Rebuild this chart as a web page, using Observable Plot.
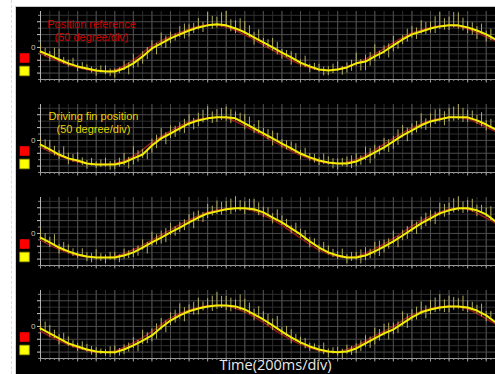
<!DOCTYPE html>
<html><head><meta charset="utf-8">
<script src="https://cdn.jsdelivr.net/npm/d3@7"></script>
<script src="https://cdn.jsdelivr.net/npm/@observablehq/plot@0.6"></script>
<style>
html,body{margin:0;padding:0;background:#fff;}
#wrap{position:relative;width:495px;height:374px;overflow:hidden;background:#fff;}
#ruler{position:absolute;left:11px;top:0;bottom:0;border-left:1px dashed #dcdcdc;}
#bg{position:absolute;left:15px;top:6px;right:0;bottom:0;background:#000;border-top:1px solid #c8c8c8;border-left:1px solid #d4d4d4;}
#chart{position:absolute;left:0;top:0;}
#chart svg{background:transparent;}
</style></head><body>
<div id="wrap"><div id="ruler"></div><div id="bg"></div><div id="chart"></div></div>
<script>
const panels = [1, 2, 3, 4];
const refLabel = ["Position reference", "(50 degree/div)"];
const finLabel = ["Driving fin position", "(50 degree/div)"];
const xLabel = "Time(200ms/div)";
const timeMs = [0,100,200,300,400,500,600,700,800,900,1000,1100,1200,1300,1400,1500,1600,1700,1800,1900,2000,2100,2200,2300,2400,2500,2600,2700,2800,2900,3000,3100,3200,3300,3400,3500,3600,3700,3800,3900,4000,4100,4200,4300,4400,4500,4600,4700,4800,4900];
const refTimeMs = [0,200,400,600,800,1000,1200,1400,1600,1800,2000,2200,2400,2600,2800,3000,3200,3400,3600,3800,4000,4200,4400,4600,4800,4900];
const timeDomain = [0, 4900];
const degDomain = [-125, 140];
const xMinorTicks = [0,100,200,300,400,500,600,700,800,900,1000,1100,1200,1300,1400,1500,1600,1700,1800,1900,2000,2100,2200,2300,2400,2500,2600,2700,2800,2900,3000,3100,3200,3300,3400,3500,3600,3700,3800,3900,4000,4100,4200,4300,4400,4500,4600,4700,4800,4900];
const xMajorTicks = [0,200,400,600,800,1000,1200,1400,1600,1800,2000,2200,2400,2600,2800,3000,3200,3400,3600,3800,4000,4200,4400,4600,4800];
const yMajorTicks = [-100, -50, 0, 50, 100];
const yMinorTicks = [-125, -75, -25, 25, 75, 125];

// measured (yellow) traces, degrees
const fin1 = [-16,-31,-47,-62,-74,-82,-90,-94,-94,-82,-62,-35,-4,16,35,51,66,78,86,90,86,74,59,39,20,0,-20,-39,-59,-74,-86,-90,-86,-78,-62,-55,-35,-16,8,31,51,62,74,82,86,86,78,66,51,31];
const fin2 = [-16,-35,-55,-70,-78,-90,-94,-94,-94,-86,-70,-55,-20,8,27,47,66,78,86,90,90,86,66,47,27,8,-12,-31,-51,-66,-78,-86,-90,-90,-82,-66,-47,-27,-4,20,39,59,74,82,90,90,90,78,62,43];
const fin3 = [-16,-35,-55,-70,-82,-90,-94,-94,-94,-86,-74,-55,-35,-16,4,23,43,62,78,86,94,98,98,94,82,62,43,20,-4,-31,-55,-74,-86,-94,-94,-86,-70,-51,-31,-8,16,39,59,78,90,98,98,90,74,47];
const fin4 = [-8,-27,-47,-66,-78,-90,-98,-101,-101,-90,-74,-55,-35,-4,23,43,59,70,78,82,82,78,66,47,27,4,-20,-43,-62,-78,-90,-98,-101,-98,-86,-66,-47,-27,-12,12,35,55,66,74,78,78,74,62,43,16];
// noise spike extents above / below the trace at each sample, degrees
const up1 = [30,15,40,12,10,14,8,22,10,28,35,18,30,40,25,30,22,35,50,28,55,30,42,20,15,35,12,22,10,8,20,15,30,18,40,25,45,22,35,15,30,42,25,55,32,48,22,15,12,18];
const dn1 = [8,25,10,15,20,8,22,12,25,8,20,30,10,15,20,12,25,10,8,15,10,20,8,30,20,15,25,30,18,25,10,20,8,22,12,35,20,10,25,20,15,10,18,12,20,15,25,35,30,20];
const up2 = [25,35,15,20,30,12,10,25,15,35,45,20,25,38,30,22,35,28,45,30,40,25,35,15,20,28,15,25,12,15,10,22,18,25,30,40,28,35,20,38,25,45,30,40,35,50,28,20,15,25];
const dn2 = [15,10,20,25,10,22,15,10,20,12,25,15,30,10,20,15,12,25,10,20,15,10,25,20,12,30,18,10,25,15,20,10,25,15,20,12,25,15,30,10,20,15,25,10,18,12,20,15,25,10];
const up3 = [35,20,12,25,10,15,30,10,20,25,15,30,40,25,35,20,30,25,35,40,30,45,25,38,20,15,25,10,20,15,10,25,15,12,20,30,35,25,40,20,35,25,30,40,28,45,30,20,25,15];
const dn3 = [10,20,25,10,15,20,10,25,12,15,20,10,15,25,12,20,10,15,20,12,10,15,25,10,20,25,12,20,15,25,20,10,15,25,10,20,15,25,10,20,12,25,15,10,20,12,15,25,10,20];
const up4 = [20,30,15,25,12,20,15,10,25,18,30,40,25,35,30,45,25,40,30,50,35,25,40,20,30,25,15,30,20,12,15,10,20,25,18,30,40,35,25,45,30,40,35,50,40,30,25,20,15,12];
const dn4 = [10,15,25,12,20,10,25,15,10,20,12,15,25,10,20,15,12,25,10,15,20,12,15,25,10,20,15,25,10,20,12,25,15,10,20,15,25,10,20,12,15,10,20,15,25,10,20,15,25,12];
// spikes halfway between samples (relative to the preceding sample)
const upB1 = [12,28,8,20,15,6,18,10,14,22,12,35,20,28,18,40,28,20,35,45,22,38,25,30,10,20,8,15,25,12,10,25,12,28,15,35,20,30,15,40,25,35,45,30,50,28,18,25,20];
const dnB1 = [20,10,18,8,12,18,10,20,8,25,15,12,25,20,10,18,12,20,15,10,25,12,20,15,25,30,20,12,20,15,25,12,22,15,30,18,10,25,15,10,20,12,20,15,10,22,30,15,25];
const upB2 = [18,12,30,15,10,20,18,12,25,20,30,15,40,22,28,35,20,40,25,35,30,20,25,30,15,20,10,18,20,12,25,15,20,30,22,35,25,30,45,28,35,25,45,30,40,35,25,30,20];
const dnB2 = [20,25,10,15,20,10,12,22,10,25,15,20,12,25,15,20,25,10,20,12,25,15,10,20,25,12,25,20,10,22,15,25,12,20,15,25,10,20,15,25,10,20,12,25,15,20,10,25,15];
const upB3 = [15,30,20,10,22,12,15,20,10,18,25,20,30,35,22,30,40,20,28,35,40,30,35,25,18,30,12,20,15,10,20,12,25,20,30,25,40,30,20,35,28,40,25,35,45,25,35,20,30];
const dnB3 = [22,10,15,20,10,25,15,10,20,12,15,25,10,20,15,12,25,20,10,15,20,12,10,25,15,10,20,15,25,12,15,20,10,15,25,12,20,10,25,15,20,12,25,15,10,20,15,12,25];
const upB4 = [25,12,20,10,18,12,10,22,15,25,20,30,45,25,40,30,35,25,40,35,28,45,25,30,20,35,20,12,15,10,25,15,12,20,30,25,35,40,30,35,40,25,45,30,35,40,20,25,15];
const dnB4 = [12,20,10,18,15,22,12,20,15,10,25,12,15,20,10,25,15,10,20,12,25,15,20,10,25,12,20,15,25,12,20,10,25,15,12,20,10,25,15,20,10,25,12,20,15,20,12,25,10];
// reference (red) traces, degrees
const ref1 = [-24,-55,-78,-92,-88,-50,6,43,72,88,80,49,10,-30,-66,-88,-84,-62,-26,18,56,78,86,72,41,26];
const ref2 = [-26,-60,-84,-94,-90,-62,-8,37,72,88,88,56,18,-22,-58,-82,-90,-74,-37,8,49,78,90,84,52,35];
const ref3 = [-26,-62,-86,-94,-90,-64,-26,14,52,82,96,96,72,32,-18,-64,-90,-90,-60,-20,28,68,94,94,60,40];
const ref4 = [-18,-56,-84,-100,-96,-64,-20,33,64,80,80,56,16,-32,-70,-94,-100,-76,-37,0,45,70,78,68,30,10];

const fins = [fin1, fin2, fin3, fin4];
const ups = [up1, up2, up3, up4];
const dns = [dn1, dn2, dn3, dn4];
const upsB = [upB1, upB2, upB3, upB4];
const dnsB = [dnB1, dnB2, dnB3, dnB4];
const refs = [ref1, ref2, ref3, ref4];

const finRows = [];
panels.forEach((p, i) => timeMs.forEach((t, j) => finRows.push({p, t, y: fins[i][j], hi: fins[i][j] + ups[i][j], lo: fins[i][j] - dns[i][j]})));
const spikeRows = [];
panels.forEach((p, i) => upsB[i].forEach((u, j) => spikeRows.push({p, t: timeMs[j] + 50, hi: fins[i][j] + u, lo: fins[i][j] - dnsB[i][j]})));
const refRows = [];
panels.forEach((p, i) => refTimeMs.forEach((t, j) => refRows.push({p, t, y: refs[i][j]})));

const font = "'Open Sans', 'Noto Sans', sans-serif";
const labelFont = "'Liberation Sans', Arial, sans-serif";
const chart = Plot.plot({
  width: 495, height: 374,
  marginTop: 10, marginBottom: 16, marginLeft: 40, marginRight: 0,
  style: {background: "transparent", color: "#c8c8c8", fontFamily: font, fontSize: "8px", overflow: "visible"},
  x: {domain: timeDomain},
  y: {domain: degDomain},
  fy: {domain: panels, axis: null, paddingInner: 0.27, paddingOuter: 0},
  marks: [
    Plot.gridX({ticks: xMinorTicks, stroke: "#2e2e2e", strokeOpacity: 1}),
    Plot.gridY({ticks: yMinorTicks, stroke: "#2e2e2e", strokeOpacity: 1}),
    Plot.gridX({ticks: xMajorTicks, stroke: "#4c4c4c", strokeOpacity: 1}),
    Plot.gridY({ticks: yMajorTicks, stroke: "#4c4c4c", strokeOpacity: 1}),
    Plot.ruleX([timeDomain[0]], {stroke: "#b4b4b4"}),
    Plot.ruleY([degDomain[0]], {stroke: "#9a9a9a"}),
    Plot.axisX({ticks: xMinorTicks.concat(xMinorTicks.map(d => d + 50)), tickSize: 2, tickFormat: () => "", color: "#8a8a8a", facetAnchor: null, label: null}),
    Plot.axisX({ticks: xMajorTicks, tickSize: 3.5, tickFormat: () => "", color: "#a0a0a0", facetAnchor: null, label: null}),
    Plot.axisY({ticks: yMajorTicks, tickSize: 3, tickPadding: 2, tickFormat: d => d === 0 ? "0" : "", color: "#c8c8c8", fontSize: 8, label: null}),
    Plot.axisY({ticks: yMinorTicks, tickSize: 2, tickFormat: () => "", color: "#888", label: null}),
    Plot.text([{p: 1, s: refLabel[0]}], {fy: "p", text: "s", frameAnchor: "top-left", dx: 51, dy: 8.3, textAnchor: "middle", lineAnchor: "top", fill: "#d40000", fontSize: 11, fontFamily: labelFont}),
    Plot.text([{p: 1, s: refLabel[1]}], {fy: "p", text: "s", frameAnchor: "top-left", dx: 51, dy: 21.2, textAnchor: "middle", lineAnchor: "top", fill: "#d40000", fontSize: 11, fontFamily: labelFont}),
    Plot.text([{p: 2, s: finLabel[0]}], {fy: "p", text: "s", frameAnchor: "top-left", dx: 53, dy: 7.7, textAnchor: "middle", lineAnchor: "top", fill: "#e6d400", fontSize: 11, fontFamily: labelFont}),
    Plot.text([{p: 2, s: finLabel[1]}], {fy: "p", text: "s", frameAnchor: "top-left", dx: 53, dy: 20.6, textAnchor: "middle", lineAnchor: "top", fill: "#e6d400", fontSize: 11, fontFamily: labelFont}),
    Plot.line(refRows, {x: "t", y: "y", fy: "p", stroke: "#8e1a1a", strokeWidth: 1.6, curve: "catmull-rom"}),
    Plot.ruleX(spikeRows, {x: "t", y1: "lo", y2: "hi", fy: "p", stroke: "#c4bf68", strokeWidth: 1, strokeOpacity: 0.9}),
    Plot.ruleX(finRows, {x: "t", y1: "lo", y2: "hi", fy: "p", stroke: "#c4bf68", strokeWidth: 1, strokeOpacity: 0.9}),
    Plot.line(finRows, {x: "t", y: "y", fy: "p", stroke: "#f3ee00", strokeWidth: 2}),
    Plot.dot(panels, {fy: d => d, frameAnchor: "top-left", dx: -16, dy: 46.5, symbol: "square", r: 5.4, fill: "#ff0000"}),
    Plot.dot(panels, {fy: d => d, frameAnchor: "top-left", dx: -16, dy: 59.5, symbol: "square", r: 5.4, fill: "#ffff00", stroke: "#9a9a00", strokeWidth: 0.8}),
    Plot.text([{p: 4, s: xLabel}], {fy: "p", text: "s", frameAnchor: "bottom", dx: 7.5, dy: 7, lineAnchor: "middle", fill: "#e8e8e8", fontSize: 14.5, fontFamily: font})
  ]
});
document.getElementById("chart").appendChild(chart);
</script>
</body></html>
